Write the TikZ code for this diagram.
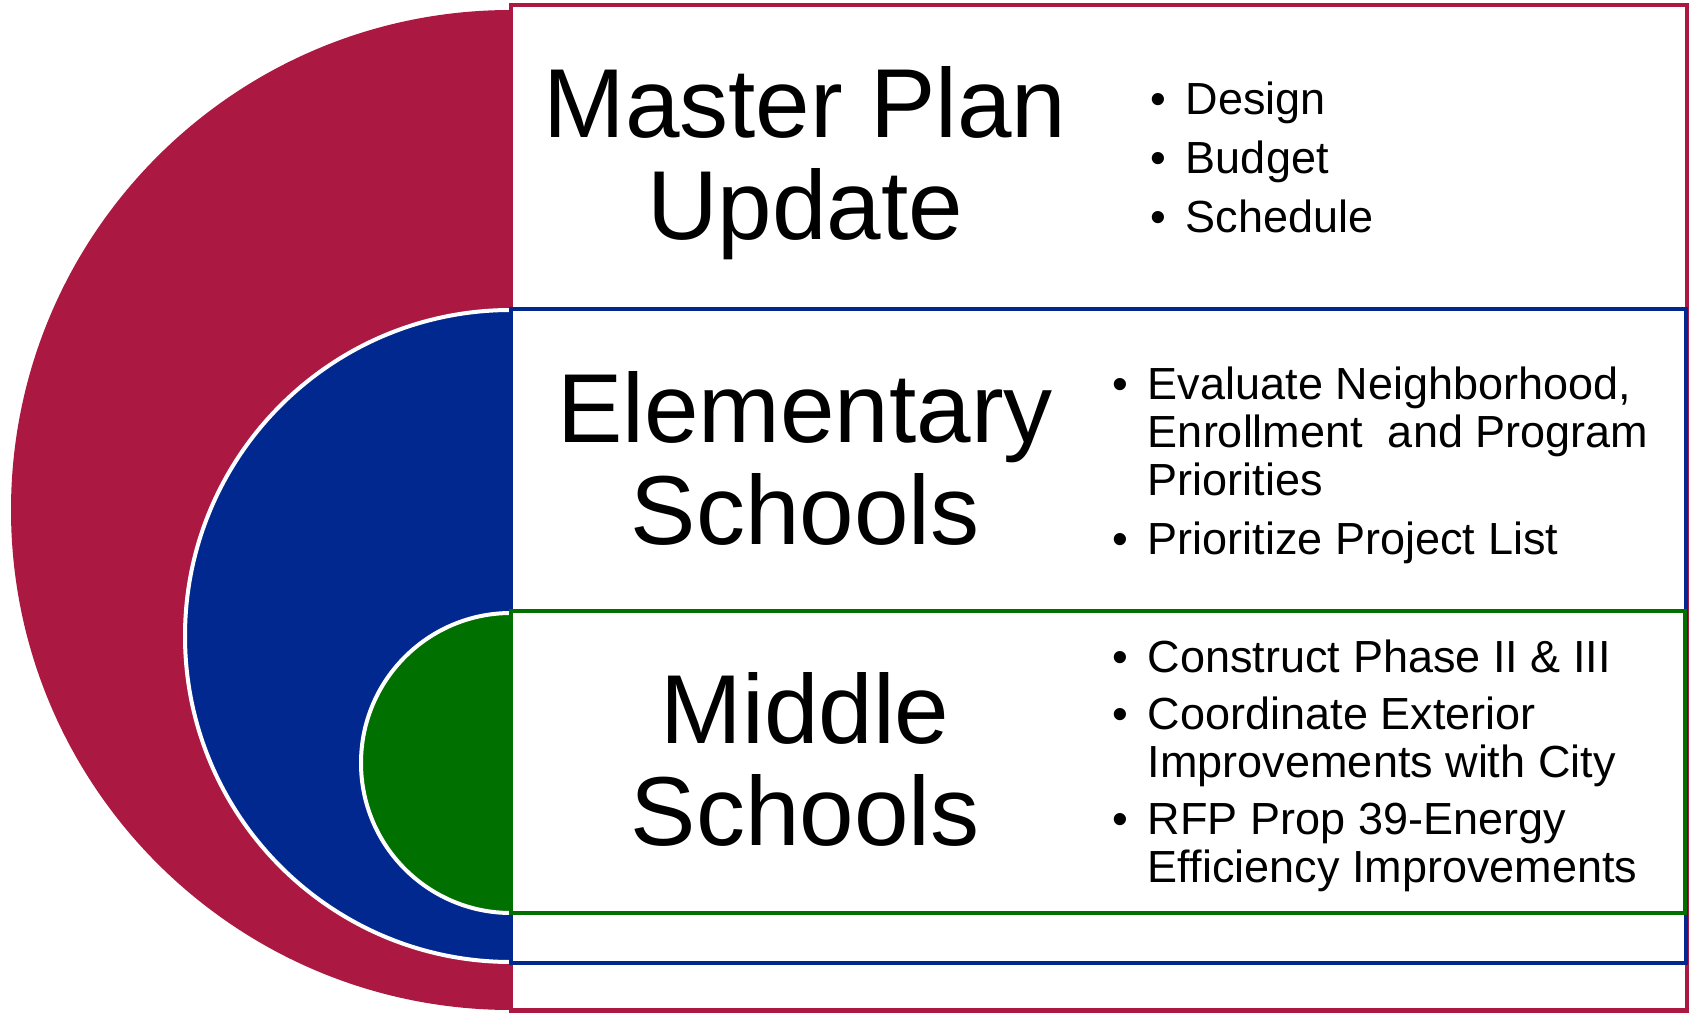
\documentclass[tikz,border=0pt]{standalone}
\usepackage{fontspec}
\setmainfont{Liberation Sans}
\usetikzlibrary{positioning}
\definecolor{mpred}{HTML}{AB1942}
\definecolor{esblue}{HTML}{00288F}
\definecolor{msgreen}{HTML}{007000}

\begin{document}
\begin{tikzpicture}[x=1pt, y=1pt,
    title/.style={anchor=base, inner sep=0pt, font=\fontsize{98}{102}\selectfont},
    list/.style={anchor=base west, inner sep=0pt, font=\fontsize{45}{48}\selectfont}]
      \useasboundingbox (0,0) rectangle (1694,1013);

      % outer band
      \fill[mpred] (511,1003) arc (90:270:500) -- cycle;
      \draw[mpred, line width=4.5pt, fill=white] (511,2.5) rectangle (1687,1008);

      % middle band
      \fill[esblue] (511,703) arc (90:270:326) -- cycle;
      \draw[white, line width=4pt] (511,703) arc (90:270:326);
      \draw[esblue, line width=4.5pt, fill=white] (511,50) rectangle (1686,704);

      % inner band
      \fill[msgreen] (511,400) arc (90:270:150) -- cycle;
      \draw[white, line width=4pt] (511,400) arc (90:270:150);
      \draw[msgreen, line width=4.5pt, fill=white] (511,100) rectangle (1685,402);

      \node[title] (mptitle) at (805,875)
        {\begin{tabular}[t]{@{}c@{}}Master Plan\\Update\end{tabular}};
      \node[title] (estitle) at (805,570)
        {\begin{tabular}[t]{@{}c@{}}Elementary\\Schools\end{tabular}};
      \node[title] (mstitle) at (805,270)
        {\begin{tabular}[t]{@{}c@{}}Middle\\Schools\end{tabular}};

      \node[list] (mplist) at (1150,898)
        {\begin{tabular}[t]{@{}l@{\hspace{20pt}}l@{}}
          \textbullet & Design\\[11pt]
          \textbullet & Budget\\[11pt]
          \textbullet & Schedule
        \end{tabular}};
      \node[list] (eslist) at (1112,613)
        {\begin{tabular}[t]{@{}l@{\hspace{20pt}}l@{}}
          \textbullet & Evaluate Neighborhood,\\
                      & Enrollment~ and Program\\
                      & Priorities\\[11pt]
          \textbullet & Prioritize Project List
        \end{tabular}};
      \node[list] (mslist) at (1112,341)
        {\begin{tabular}[t]{@{}l@{\hspace{20pt}}l@{}}
          \textbullet & Construct Phase II \& III\\[9pt]
          \textbullet & Coordinate Exterior\\
                      & Improvements with City\\[9pt]
          \textbullet & RFP Prop 39-Energy\\
                      & Efficiency Improvements
        \end{tabular}};
    \end{tikzpicture}
\end{document}
